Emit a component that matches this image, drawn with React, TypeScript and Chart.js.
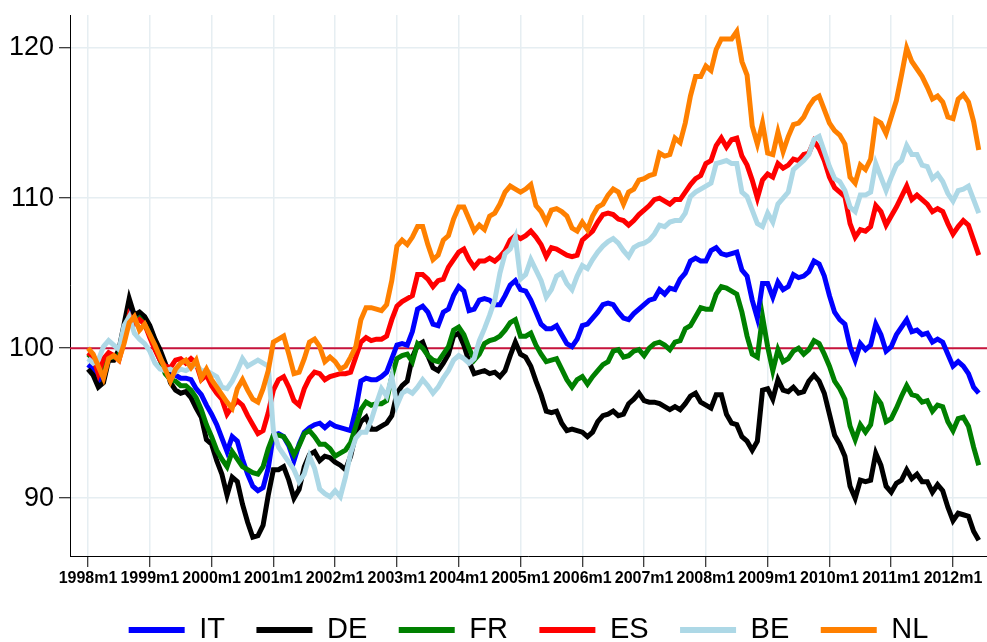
import React, { useEffect, useRef } from 'react';
import { Chart, registerables } from 'chart.js';

Chart.register(...registerables);

// Month index 0 = 1998m1, last = 2012m6
const TICK_LABELS = ['1998m1', '1999m1', '2000m1', '2001m1', '2002m1', '2003m1', '2004m1', '2005m1', '2006m1', '2007m1', '2008m1', '2009m1', '2010m1', '2011m1', '2012m1'];
const TICK_MONTHS = [0, 12, 24, 36, 48, 60, 72, 84, 96, 108, 120, 132, 144, 156, 168];
const Y_TICKS = [90, 100, 110, 120];
const BASELINE = 100;

const SERIES_NAMES = ['IT', 'DE', 'FR', 'ES', 'BE', 'NL'];
const SERIES_COLORS = ['#0000ff', '#000000', '#008000', '#ff0000', '#add8e6', '#ff8000'];

const IT = [
  98.9, 98.6, 97.8, 98.2, 99.4, 99.3, 99.6, 101.0, 102.4, 102.0, 102.3, 101.9,
  101.4, 100.5, 99.7, 98.9, 98.5, 98.2, 98.0, 98.0, 97.9, 97.3, 96.9, 96.2,
  95.6, 94.9, 94.0, 93.1, 94.1, 93.8, 92.6, 91.6, 90.8, 90.5, 90.7, 92.0,
  94.2, 94.3, 94.1, 93.5, 92.5, 93.6, 94.4, 94.7, 94.9, 95.0, 94.7, 95.0,
  94.8, 94.7, 94.6, 94.5, 95.9, 97.8, 98.0, 97.9, 97.9, 98.1, 98.4, 99.3,
  100.2, 100.3, 100.2, 101.1, 102.6, 102.8, 102.4, 101.6, 101.5, 102.4, 102.6, 103.5,
  104.1, 103.8, 102.5, 102.6, 103.2, 103.3, 103.2, 102.9, 102.9, 103.5, 104.2, 104.5,
  103.9, 103.8, 103.2, 102.4, 101.6, 101.3, 101.3, 101.5, 100.9, 100.3, 100.1, 100.6,
  101.5, 101.6, 102.0, 102.4, 102.9, 103.0, 102.9, 102.4, 102.0, 101.9, 102.3, 102.6,
  102.9, 103.2, 103.3, 103.9, 103.6, 104.0, 103.9, 104.6, 105.0, 105.8, 106.0, 105.8,
  105.8, 106.5, 106.7, 106.3, 106.2, 106.3, 106.4, 105.2, 104.8, 103.2, 102.0, 104.3,
  104.3, 103.4, 104.4, 103.9, 104.1, 104.9, 104.7, 104.8, 105.1, 105.8, 105.6, 104.8,
  103.5, 102.4, 101.9, 101.6, 100.1, 99.2, 100.3, 99.9, 100.2, 101.6, 100.9, 99.8,
  100.1, 100.9, 101.4, 101.9, 101.1, 101.2, 100.9, 101.0, 100.4, 100.6, 100.4, 99.6,
  98.8, 99.1, 98.8, 98.3, 97.4, 97.0,
];

const DE = [
  98.6, 98.2, 97.4, 97.7, 99.2, 99.2, 99.9, 101.6, 103.3, 102.2, 102.4, 102.1,
  101.5, 100.6, 99.9, 99.0, 97.7, 97.2, 97.0, 97.1, 96.7, 96.0, 95.4, 93.9,
  93.6, 92.5, 91.6, 90.2, 91.4, 91.1, 89.6, 88.4, 87.4, 87.5, 88.2, 90.2,
  91.9, 91.9, 92.1, 91.2, 90.0, 90.6, 92.1, 92.9, 93.1, 92.5, 92.8, 92.7,
  92.4, 92.2, 91.9, 92.8, 94.3, 95.1, 95.4, 94.6, 94.6, 94.8, 95.0, 95.5,
  97.0, 97.5, 97.8, 99.4, 100.2, 100.4, 99.5, 98.7, 98.5, 99.0, 99.6, 100.8,
  101.0, 100.2, 99.1, 98.3, 98.4, 98.5, 98.3, 98.4, 98.1, 98.5, 99.5, 100.4,
  99.6, 99.4, 98.8, 97.8, 96.9, 95.8, 95.7, 95.8, 95.0, 94.5, 94.6, 94.5,
  94.4, 94.1, 94.4, 95.1, 95.5, 95.6, 95.8, 95.5, 95.6, 96.3, 96.6, 97.0,
  96.5, 96.4, 96.4, 96.3, 96.1, 95.9, 96.1, 95.9, 96.3, 96.8, 97.0, 96.4,
  96.2, 96.0, 96.9, 96.9, 95.6, 95.0, 94.9, 94.1, 93.8, 93.2, 93.8, 97.2,
  97.3, 96.6, 97.9, 97.2, 97.1, 97.4, 97.0, 97.1, 97.8, 98.2, 97.8, 97.0,
  95.6, 94.2, 93.6, 92.8, 90.8, 90.0, 91.2, 91.1, 91.2, 93.0, 92.2, 90.8,
  90.4, 91.0, 91.2, 91.9, 91.3, 91.6, 91.1, 91.1, 90.4, 90.9, 90.5, 89.4,
  88.5, 89.0, 88.9, 88.8, 87.8, 87.2,
];

const FR = [
  99.6, 99.3, 98.4, 98.5, 99.4, 99.4, 99.5, 100.8, 102.2, 101.7, 102.0, 101.6,
  100.9, 100.0, 99.2, 98.3, 97.9, 97.8, 97.5, 97.5, 97.2, 96.7, 95.9, 94.9,
  94.1, 93.2, 92.6, 92.1, 93.1, 92.6, 92.1, 91.9, 91.7, 91.6, 92.1, 93.3,
  94.2, 94.2, 94.1, 93.6, 92.9, 93.5, 94.3, 94.5, 94.1, 93.6, 93.6, 93.3,
  92.8, 93.0, 93.2, 93.7, 94.8, 95.9, 96.4, 96.2, 96.3, 96.3, 96.5, 98.1,
  99.3, 99.5, 99.6, 99.1, 100.3, 100.0, 99.5, 99.2, 99.1, 99.6, 100.1, 101.2,
  101.4, 100.9, 100.0, 99.2, 99.6, 100.3, 100.5, 100.6, 100.8, 101.2, 101.7, 101.9,
  100.8, 100.8, 101.0, 100.2, 99.6, 99.1, 99.2, 99.3, 98.6, 97.9, 97.4, 97.9,
  98.1, 97.6, 98.1, 98.5, 98.9, 99.1, 99.8, 99.9, 99.4, 99.5, 99.8, 99.9,
  99.5, 100.0, 100.3, 100.4, 100.2, 99.9, 100.4, 100.5, 101.3, 101.5, 102.1, 102.7,
  102.6, 102.6, 103.6, 104.1, 104.0, 103.8, 103.6, 102.4, 100.8, 99.6, 99.4, 102.1,
  100.1, 98.5, 99.9, 99.1, 99.3, 99.8, 100.0, 99.6, 99.9, 100.5, 100.3, 99.6,
  98.8, 97.8, 97.3, 96.6, 94.8, 93.9, 94.9, 94.4, 94.9, 96.8, 96.3, 95.1,
  95.3, 96.0, 96.8, 97.5, 96.9, 96.8, 96.4, 96.5, 95.8, 96.2, 96.1, 95.1,
  94.5, 95.3, 95.4, 94.8, 93.4, 92.2,
];

const ES = [
  99.7, 99.4, 98.3, 99.3, 99.7, 99.5, 99.2, 100.5, 102.2, 101.6, 101.9, 101.6,
  100.7, 99.9, 99.2, 98.8, 98.7, 99.2, 99.3, 99.0, 99.3, 99.0, 97.9, 98.2,
  97.5, 97.0, 96.6, 95.6, 96.1, 96.5, 96.2, 95.5, 94.9, 94.3, 94.5, 95.7,
  97.2, 97.9, 98.1, 97.4, 96.5, 96.2, 97.3, 98.0, 98.4, 98.3, 97.9, 98.1,
  98.2, 98.3, 98.3, 98.4, 99.4, 100.4, 100.7, 100.5, 100.6, 100.6, 100.8, 101.9,
  102.8, 103.1, 103.3, 103.5, 104.9, 104.9, 104.6, 104.1, 104.5, 104.6, 105.4, 105.9,
  106.4, 106.6, 105.9, 105.4, 105.8, 105.8, 106.0, 105.8, 106.1, 106.5, 107.2, 107.5,
  107.3, 107.5, 107.8, 107.4, 106.9, 106.1, 106.7, 106.6, 106.4, 106.2, 106.1, 106.2,
  107.2, 107.5, 107.8, 108.4, 108.9, 109.0, 108.9, 108.6, 108.5, 108.2, 108.5, 108.9,
  109.2, 109.5, 109.9, 110.0, 109.8, 109.6, 109.9, 109.9, 110.4, 110.9, 111.3, 111.5,
  112.3, 112.5, 113.5, 114.0, 113.4, 113.9, 114.0, 112.8, 112.2, 111.2, 110.0, 111.2,
  111.6, 111.4, 112.3, 112.0, 112.2, 112.6, 112.5, 112.9, 113.0, 113.8, 113.3, 112.5,
  111.4, 110.7, 110.4, 110.1, 108.3, 107.4, 107.9, 107.8, 108.1, 109.5, 109.1, 108.2,
  108.8, 109.4, 110.1, 110.8, 109.9, 110.2, 109.9, 109.6, 109.1, 109.3, 109.1, 108.3,
  107.6, 108.1, 108.5, 108.2, 107.2, 106.2,
];

const BE = [
  99.3, 99.0, 99.2, 100.1, 100.5, 100.2, 99.9, 101.5, 102.1, 101.0, 100.6, 100.3,
  99.8, 99.0, 98.6, 98.5, 98.6, 98.4, 98.6, 98.5, 98.7, 98.9, 98.5, 98.5,
  98.3, 98.1, 97.4, 97.3, 97.8, 98.5, 99.3, 98.8, 99.0, 99.2, 99.0, 98.8,
  94.5, 93.4, 92.9, 92.4, 91.9, 91.1, 91.6, 92.8, 92.0, 90.6, 90.3, 90.1,
  90.5, 90.1, 91.4, 93.0, 94.0, 94.4, 94.4, 95.2, 96.3, 97.3, 96.8, 98.1,
  96.2, 97.0, 97.2, 97.0, 97.4, 97.9, 97.5, 97.0, 97.4, 98.0, 98.5, 99.2,
  99.5, 99.3, 99.0, 99.3, 100.5, 101.3, 102.2, 103.2, 105.0, 106.3, 106.6, 107.4,
  104.6, 104.9, 105.9, 105.2, 104.5, 103.4, 103.9, 104.8, 105.0, 104.3, 103.9, 104.8,
  105.5, 105.3, 105.9, 106.4, 106.8, 107.1, 107.3, 107.0, 106.5, 106.1, 106.7, 106.9,
  107.0, 107.2, 107.6, 108.2, 108.1, 108.4, 108.5, 108.5, 109.0, 110.1, 110.4, 110.6,
  110.8, 111.0, 112.3, 112.4, 112.5, 112.3, 112.3, 110.4, 110.1, 109.2, 108.3, 108.1,
  109.0, 108.4, 109.6, 110.0, 110.4, 111.9, 112.2, 112.5, 112.9, 113.9, 114.1, 113.1,
  112.1, 111.3, 111.1, 110.5, 109.4, 109.1, 110.2, 110.2, 110.4, 112.3, 111.4, 110.5,
  111.4, 112.2, 112.5, 113.5, 112.9, 112.9, 112.2, 112.1, 111.3, 111.6, 111.1, 110.3,
  109.8, 110.5, 110.6, 110.8, 109.9, 109.0,
];

const NL = [
  100.0, 99.6, 98.8, 98.0, 99.3, 99.5, 99.2, 100.3, 101.7, 102.1, 101.2, 101.6,
  100.9, 100.2, 99.4, 98.6, 97.8, 98.6, 99.0, 99.2, 98.7, 99.2, 98.0, 98.6,
  97.9, 97.4, 96.9, 96.4, 96.0, 97.3, 97.9, 97.2, 96.6, 96.4, 97.3, 98.5,
  100.4, 100.6, 100.8, 99.6, 98.3, 98.4, 99.3, 100.4, 100.6, 100.1, 99.1, 99.4,
  99.1, 98.6, 98.8, 99.4, 100.1, 101.9, 102.7, 102.7, 102.6, 102.5, 102.9, 104.5,
  106.8, 107.2, 106.9, 107.4, 108.1, 108.1, 106.9, 105.9, 106.2, 107.2, 107.5, 108.6,
  109.4, 109.4, 108.6, 107.8, 108.2, 107.9, 108.8, 109.0, 109.6, 110.4, 110.8, 110.6,
  110.4, 110.6, 110.9, 109.5, 109.1, 108.4, 109.2, 109.3, 109.1, 108.8, 108.0, 107.8,
  108.4, 107.9, 108.8, 109.4, 109.6, 110.2, 110.6, 110.4, 109.6, 110.4, 110.6, 111.2,
  111.3, 111.5, 111.6, 113.0, 112.8, 112.9, 114.0, 113.7, 115.0, 116.8, 118.1, 118.1,
  118.8, 118.5, 119.9, 120.6, 120.6, 120.6, 121.1, 119.1, 118.2, 114.8, 113.6, 115.0,
  113.0, 112.9, 114.4, 113.1, 114.1, 114.9, 115.0, 115.4, 116.1, 116.6, 116.8, 115.9,
  115.0, 114.5, 114.2, 113.6, 111.4, 111.0, 112.2, 111.9, 112.6, 115.2, 115.0, 114.3,
  115.4, 116.5, 118.2, 120.0, 119.1, 118.6, 118.1, 117.4, 116.6, 116.8, 116.4, 115.4,
  115.3, 116.6, 116.9, 116.4, 115.1, 113.2,
];

const SERIES = [IT, DE, FR, ES, BE, NL];

const X_MIN = -3.5;
const X_MAX = 174.6;
const Y_MIN = 86.15;
const Y_MAX = 122.2;

const SANS = "'Liberation Sans', Arial, Helvetica, sans-serif";

export default function App() {
  const canvasRef = useRef<HTMLCanvasElement | null>(null);

  useEffect(() => {
    if (!canvasRef.current) return;
    Chart.defaults.font.family = SANS;
    Chart.defaults.color = '#000';

    const datasets: any[] = SERIES.map((vals, i) => ({
      label: SERIES_NAMES[i],
      data: vals.map((v, m) => ({ x: m, y: v })),
      borderColor: SERIES_COLORS[i],
      backgroundColor: SERIES_COLORS[i],
      borderWidth: 5,
      pointRadius: 0,
      tension: 0,
      fill: false,
      order: 6 - i,
    }));
    datasets.push({
      label: 'base',
      data: [
        { x: X_MIN, y: BASELINE },
        { x: X_MAX, y: BASELINE },
      ],
      borderColor: '#c8143c',
      borderWidth: 2,
      pointRadius: 0,
      fill: false,
      order: 20,
    });

    const chart = new Chart(canvasRef.current, {
      type: 'line',
      data: { datasets },
      options: {
        animation: false,
        responsive: true,
        maintainAspectRatio: false,
        layout: { padding: { top: 15, right: 0, bottom: -12.5, left: 0 } },
        plugins: {
          tooltip: { enabled: false },
          title: { display: false },
          legend: {
            display: true,
            position: 'bottom',
            fullSize: false,
            align: 'center',
            labels: {
              boxWidth: 56,
              boxHeight: 6,
              padding: 31.5,
              color: '#000',
              font: { family: SANS, size: 29 },
              generateLabels: () =>
                SERIES_NAMES.map((name, i) => ({
                  text: name,
                  fillStyle: SERIES_COLORS[i],
                  strokeStyle: SERIES_COLORS[i],
                  lineWidth: 0,
                  hidden: false,
                  datasetIndex: i,
                  fontColor: '#000',
                })),
            },
          },
        },
        scales: {
          x: {
            type: 'linear',
            min: X_MIN,
            max: X_MAX,
            afterBuildTicks: (scale: any) => {
              scale.ticks = TICK_MONTHS.map((v) => ({ value: v }));
            },
            afterFit: (scale: any) => {
              scale.height = 28;
              scale.paddingLeft = 0;
              scale.paddingRight = 0;
            },
            ticks: {
              autoSkip: false,
              maxRotation: 0,
              minRotation: 0,
              padding: 2,
              color: '#000',
              font: { family: SANS, size: 16, weight: 'bold' },
              callback: (value: any) => {
                const idx = TICK_MONTHS.indexOf(Number(value));
                return idx >= 0 ? TICK_LABELS[idx] : '';
              },
            },
            grid: {
              color: '#e6eef2',
              lineWidth: 1.5,
              tickColor: '#000',
              tickLength: 11,
              tickWidth: 1,
              drawTicks: true,
            },
            border: { display: true, color: '#000', width: 1 },
          },
          y: {
            type: 'linear',
            min: Y_MIN,
            max: Y_MAX,
            afterBuildTicks: (scale: any) => {
              scale.ticks = Y_TICKS.map((v) => ({ value: v }));
            },
            afterFit: (scale: any) => {
              scale.width = 70;
              scale.paddingTop = 0;
              scale.paddingBottom = 0;
            },
            ticks: {
              padding: 5,
              color: '#000',
              font: { family: SANS, size: 27 },
              callback: (value: any) => String(value),
            },
            grid: {
              color: '#e6eef2',
              lineWidth: 1.5,
              tickColor: '#000',
              tickLength: 11,
              tickWidth: 1,
            },
            border: { display: true, color: '#000', width: 1 },
          },
        },
      },
    });

    return () => {
      chart.destroy();
    };
  }, []);

  return (
    <div style={{ position: 'fixed', left: 0, top: 0, width: 987, height: 642, background: '#fff' }}>
      <canvas ref={canvasRef} />
    </div>
  );
}
